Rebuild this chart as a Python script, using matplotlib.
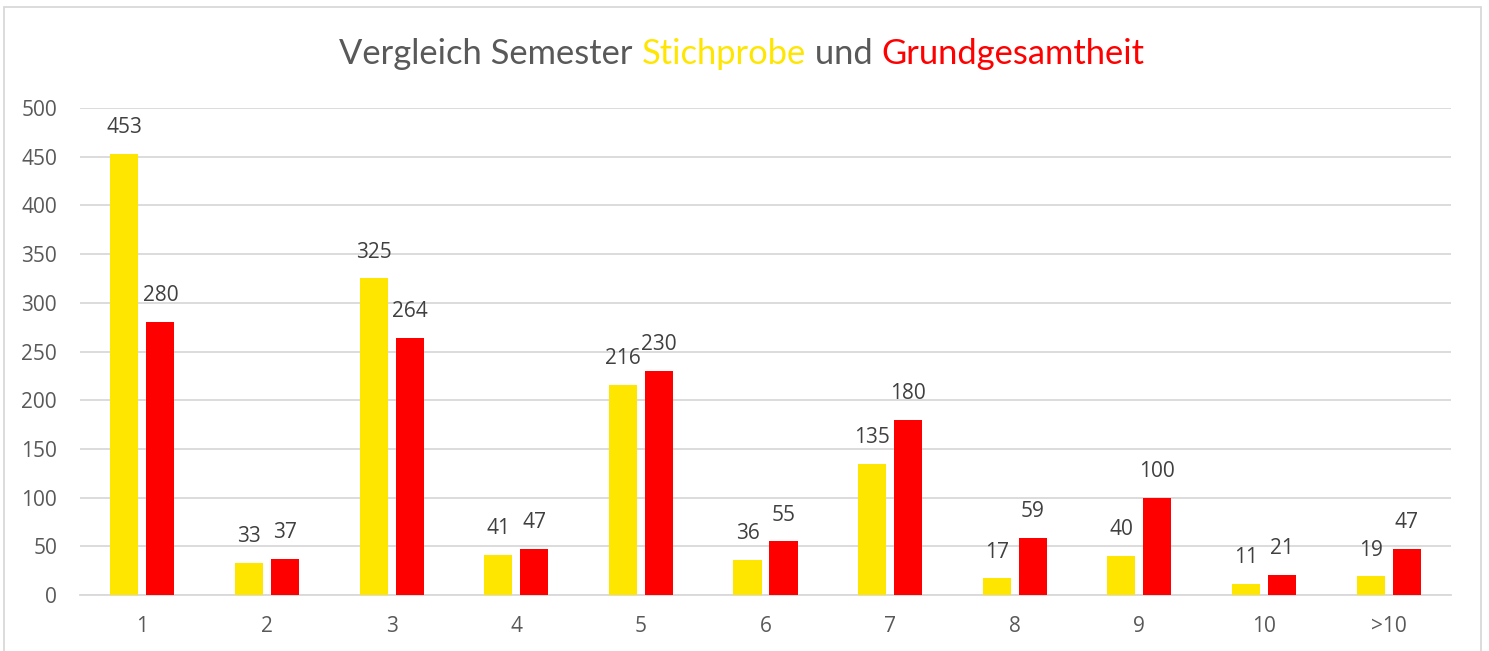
import matplotlib
matplotlib.use('Agg')
import numpy as np
from matplotlib import pyplot as plt
from matplotlib.patches import Rectangle

categories = ['1', '2', '3', '4', '5', '6', '7', '8', '9', '10', '>10']
stichprobe = [453, 33, 325, 41, 216, 36, 135, 17, 40, 11, 19]
grundgesamtheit = [280, 37, 264, 47, 230, 55, 180, 59, 100, 21, 47]

YELLOW = '#FFE600'
RED = '#FF0000'
GRAY = '#595959'
LABEL = '#404040'
GRID = '#D9D9D9'


def main():
    plt.rcParams['font.family'] = ['Open Sans', 'DejaVu Sans']
    fig = plt.figure(figsize=(14.89, 6.51), dpi=100)
    ax = fig.add_axes([80 / 1489, 1 - 595 / 651, (1451 - 80) / 1489, (595 - 108) / 651])

    x = np.arange(len(categories))
    w = 0.225
    off = 0.1445
    b1 = ax.bar(x - off, stichprobe, w, color=YELLOW, zorder=3)
    b2 = ax.bar(x + off, grundgesamtheit, w, color=RED, zorder=3)

    for bars, vals in ((b1, stichprobe), (b2, grundgesamtheit)):
        for bar, v in zip(bars, vals):
            ax.annotate(str(v), (bar.get_x() + bar.get_width() / 2, v),
                        xytext=(0, 19), textcoords='offset points',
                        ha='center', va='center', fontsize=15, color=LABEL,
                        annotation_clip=False)

    ax.set_xlim(-0.5, len(categories) - 0.5)
    ax.set_ylim(0, 500)
    ax.set_yticks(range(0, 501, 50))
    ax.set_xticks(x)
    ax.set_xticklabels(categories)
    ax.tick_params(axis='both', length=0, labelsize=15, labelcolor=GRAY)
    ax.tick_params(axis='x', pad=15)
    ax.tick_params(axis='y', pad=16.5)
    ax.grid(axis='y', color=GRID, linewidth=1.3, zorder=0)
    for s in ['top', 'right', 'left']:
        ax.spines[s].set_visible(False)
    ax.spines['bottom'].set_color(GRID)
    ax.spines['bottom'].set_linewidth(1.3)

    # chart frame
    fig.patches.append(Rectangle((4 / 1489, -0.05), (1481 - 4) / 1489, 1.05 - 7 / 651,
                                 transform=fig.transFigure, fill=False,
                                 edgecolor=GRID, linewidth=1.3))

    # multi-coloured title
    parts = [('Vergleich Semester ', GRAY), ('Stichprobe', YELLOW),
             (' und ', GRAY), ('Grundgesamtheit', RED)]
    renderer = fig.canvas.get_renderer()
    texts = []
    total = 0
    for s, c in parts:
        t = fig.text(0, 1 - 54 / 651, s, color=c, fontsize=24.8, va='center', ha='left',
                     family=['Lato', 'DejaVu Sans'])
        texts.append(t)
        total += t.get_window_extent(renderer).width
    xpos = (742 - total / 2)
    for t in texts:
        t.set_x(xpos / 1489)
        xpos += t.get_window_extent(renderer).width

    plt.savefig('out.png', dpi=100)


if __name__ == '__main__':
    main()
